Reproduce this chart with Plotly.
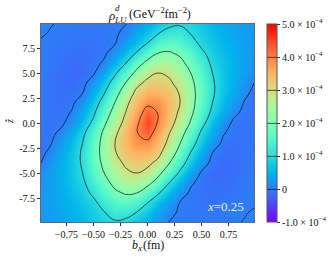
import math
import plotly.graph_objects as go

b_x = [-0.985, -0.9, -0.8, -0.7, -0.6, -0.5, -0.4, -0.3, -0.2, -0.1, 0, 0.1, 0.2, 0.3, 0.4, 0.5, 0.6, 0.7, 0.8, 0.9, 0.985]
z_tilde = [-9.9, -9, -8, -7, -6, -5, -4, -3, -2, -1, 0, 1, 2, 3, 4, 5, 6, 7, 8, 9, 9.9]
# rho in units of 1e-4 GeV^-2 fm^-2, rows follow z_tilde, columns follow b_x
rho = [
    [0.20, 0.26, 0.33, 0.43, 0.55, 0.70, 0.86, 0.95, 0.88, 0.66, 0.44, 0.20, -0.01, -0.03, -0.04, -0.05, -0.05, -0.04, -0.02, 0.01, 0.05],
    [0.21, 0.27, 0.36, 0.47, 0.61, 0.78, 0.97, 1.20, 1.18, 0.97, 0.67, 0.37, 0.07, -0.04, -0.06, -0.07, -0.07, -0.06, -0.04, -0.01, 0.02],
    [0.22, 0.30, 0.40, 0.53, 0.68, 0.88, 1.20, 1.50, 1.58, 1.40, 1.00, 0.62, 0.26, -0.02, -0.07, -0.10, -0.11, -0.09, -0.07, -0.04, -0.02],
    [0.22, 0.31, 0.44, 0.60, 0.80, 1.10, 1.48, 1.87, 2.07, 2.00, 1.52, 1.05, 0.60, 0.18, -0.06, -0.11, -0.13, -0.12, -0.09, -0.05, -0.02],
    [0.18, 0.30, 0.46, 0.66, 0.90, 1.30, 1.75, 2.20, 2.50, 2.52, 2.22, 1.65, 1.00, 0.48, 0.05, -0.10, -0.15, -0.15, -0.11, -0.06, -0.03],
    [0.12, 0.26, 0.46, 0.70, 1.00, 1.48, 2.00, 2.48, 2.88, 3.00, 2.78, 2.20, 1.52, 0.90, 0.36, -0.05, -0.15, -0.17, -0.13, -0.08, -0.03],
    [0.00, 0.18, 0.42, 0.70, 1.07, 1.60, 2.17, 2.75, 3.12, 3.25, 3.17, 2.80, 2.03, 1.30, 0.68, 0.18, -0.10, -0.16, -0.14, -0.09, -0.05],
    [-0.09, 0.09, 0.38, 0.68, 1.08, 1.62, 2.28, 2.95, 3.35, 3.52, 3.50, 3.20, 2.47, 1.70, 0.97, 0.44, 0.00, -0.13, -0.14, -0.10, -0.05],
    [-0.12, -0.04, 0.26, 0.60, 1.00, 1.58, 2.27, 3.00, 3.45, 3.85, 3.87, 3.45, 2.82, 2.03, 1.28, 0.68, 0.22, -0.07, -0.13, -0.10, -0.05],
    [-0.10, -0.08, 0.07, 0.45, 0.86, 1.45, 2.15, 2.87, 3.43, 3.97, 4.28, 3.68, 3.03, 2.32, 1.58, 0.90, 0.45, 0.03, -0.11, -0.09, -0.05],
    [-0.07, -0.10, -0.07, 0.15, 0.62, 1.13, 1.88, 2.58, 3.25, 3.88, 4.52, 3.93, 3.32, 2.65, 1.93, 1.20, 0.63, 0.20, -0.08, -0.10, -0.07],
    [-0.05, -0.09, -0.11, 0.03, 0.45, 0.90, 1.58, 2.32, 3.03, 3.68, 4.28, 3.97, 3.43, 2.87, 2.15, 1.45, 0.86, 0.45, 0.07, -0.08, -0.10],
    [-0.05, -0.10, -0.13, -0.07, 0.22, 0.68, 1.28, 2.03, 2.82, 3.45, 3.87, 3.85, 3.45, 3.00, 2.27, 1.58, 1.00, 0.60, 0.26, -0.04, -0.12],
    [-0.05, -0.10, -0.14, -0.13, 0.00, 0.44, 0.97, 1.70, 2.47, 3.20, 3.50, 3.52, 3.35, 2.95, 2.28, 1.62, 1.08, 0.68, 0.38, 0.09, -0.09],
    [-0.05, -0.09, -0.14, -0.16, -0.10, 0.18, 0.68, 1.30, 2.03, 2.80, 3.17, 3.25, 3.12, 2.75, 2.17, 1.60, 1.07, 0.70, 0.42, 0.18, 0.00],
    [-0.03, -0.08, -0.13, -0.17, -0.15, -0.05, 0.36, 0.90, 1.52, 2.20, 2.78, 3.00, 2.88, 2.48, 2.00, 1.48, 1.00, 0.70, 0.46, 0.26, 0.12],
    [-0.03, -0.06, -0.11, -0.15, -0.15, -0.10, 0.05, 0.48, 1.00, 1.65, 2.22, 2.52, 2.50, 2.20, 1.75, 1.30, 0.90, 0.66, 0.46, 0.30, 0.18],
    [-0.02, -0.05, -0.09, -0.12, -0.13, -0.11, -0.06, 0.18, 0.60, 1.05, 1.52, 2.00, 2.07, 1.87, 1.48, 1.10, 0.80, 0.60, 0.44, 0.31, 0.22],
    [-0.02, -0.04, -0.07, -0.09, -0.11, -0.10, -0.07, -0.02, 0.26, 0.62, 1.00, 1.40, 1.58, 1.50, 1.20, 0.88, 0.68, 0.53, 0.40, 0.30, 0.22],
    [0.02, -0.01, -0.04, -0.06, -0.07, -0.07, -0.06, -0.04, 0.07, 0.37, 0.67, 0.97, 1.18, 1.20, 0.97, 0.78, 0.61, 0.47, 0.36, 0.27, 0.21],
    [0.05, 0.01, -0.02, -0.04, -0.05, -0.05, -0.04, -0.03, -0.01, 0.20, 0.44, 0.66, 0.88, 0.95, 0.86, 0.70, 0.55, 0.43, 0.33, 0.26, 0.20],
]
x_ticks = [-0.75, -0.5, -0.25, 0, 0.25, 0.5, 0.75]
x_labels = ["\u22120.75", "\u22120.50", "\u22120.25", "0.00", "0.25", "0.50", "0.75"]
y_ticks = [-7.5, -5, -2.5, 0, 2.5, 5, 7.5]
y_labels = ["-7.5", "-5.0", "-2.5", "0.0", "2.5", "5.0", "7.5"]
cb_ticks = [-1, 0, 1, 2, 3, 4, 5]
cb_labels = ["-1.0 \u00d7 10<sup>\u22124</sup>", "0", "1.0 \u00d7 10<sup>\u22124</sup>", "2.0 \u00d7 10<sup>\u22124</sup>",
             "3.0 \u00d7 10<sup>\u22124</sup>", "4.0 \u00d7 10<sup>\u22124</sup>", "5.0 \u00d7 10<sup>\u22124</sup>"]

# matplotlib "rainbow" colormap
rainbow = []
for i in range(21):
    t = i / 20
    r = abs(2 * t - 0.5)
    g = math.sin(math.pi * t)
    bl = math.cos(math.pi * t / 2)
    rainbow.append([t, f"rgb({round(255*min(r,1))},{round(255*g)},{round(255*bl)})"])

FONT = "Liberation Serif"
fig = go.Figure(go.Contour(
    x=b_x, y=z_tilde, z=rho, zmin=-1, zmax=5, zauto=False,
    colorscale=rainbow,
    contours=dict(coloring="heatmap", start=0, end=4, size=1, showlines=True),
    line=dict(color="rgba(0,0,0,0.8)", width=0.8, smoothing=1.3),
    colorbar=dict(
        x=1.061, xanchor="left", y=0.5, yanchor="middle", len=1, lenmode="fraction",
        thickness=10, xpad=0, ypad=0, outlinecolor="#555", outlinewidth=1,
        ticks="outside", ticklen=3, tickcolor="#333", tickwidth=1,
        tickmode="array", tickvals=cb_ticks, ticktext=cb_labels,
        tickfont=dict(family=FONT, size=10, color="#111"),
    ),
))
axis_common = dict(showgrid=False, zeroline=False, showline=True, mirror=True, linecolor="#667",
                   linewidth=1, ticks="outside", ticklen=3, tickcolor="#333",
                   tickfont=dict(family=FONT, size=10, color="#111"))
fig.update_xaxes(range=[-0.985, 0.985], tickmode="array", tickvals=x_ticks, ticktext=x_labels, **axis_common)
fig.update_yaxes(range=[-9.9, 9.9], tickmode="array", tickvals=y_ticks, ticktext=y_labels, **axis_common)

def label(text, px, py, size=11, color="#111", angle=0, anchor="left"):
    fig.add_annotation(text=text, xref="paper", yref="paper",
                       x=(px - 41) / 213, y=(222 - py) / 198, xanchor=anchor, yanchor="middle",
                       showarrow=False, textangle=angle, font=dict(family=FONT, size=size, color=color))

label("<i>\u03c1</i>", 106, 16, 13)
label("<i>d</i>", 113, 8, 9)
label("<i>LU</i>", 112, 20, 9)
label("(GeV<sup>\u22122</sup>fm<sup>\u22122</sup>)", 127, 14, 12)
label("<i>b</i>", 130, 245, 12)
label("<i>x</i>", 135, 248, 9)
label("(fm)", 141, 245, 12)
label("<i>z\u0303</i>", 9, 122, 10, angle=-90, anchor="center")
label("<i>x</i>=0.25", 225, 206, 13, color="rgba(255,255,255,0.9)", anchor="center")

fig.update_layout(width=335, height=258, margin=dict(l=41, r=81, t=24, b=36, autoexpand=False),
                  paper_bgcolor="white", plot_bgcolor="white", showlegend=False)
fig.write_html("out.html", config={"displayModeBar": False},
               post_script="document.body.style.margin='0';document.documentElement.style.overflow='hidden';")
